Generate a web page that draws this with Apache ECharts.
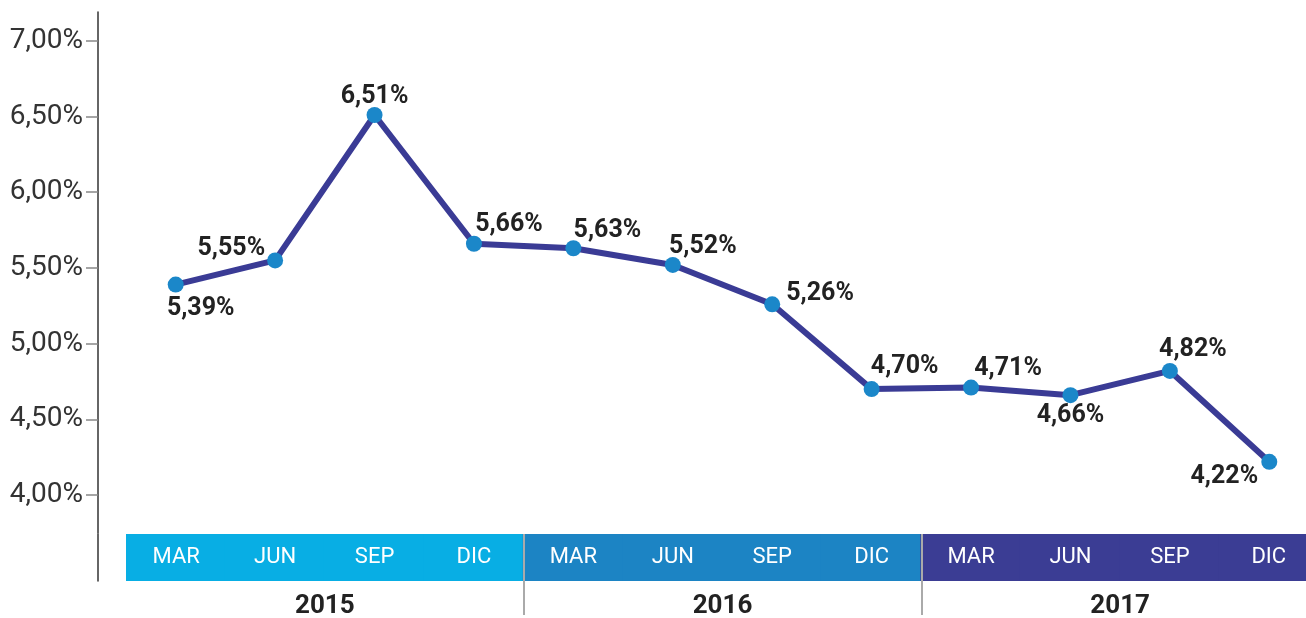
<!DOCTYPE html>
<html>
<head>
<meta charset="utf-8">
<title>Tasa</title>
<script src="https://cdn.jsdelivr.net/npm/echarts@6/dist/echarts.min.js"></script>
<style>
  html, body { margin: 0; padding: 0; background: #fff; }
  #chart { width: 1306px; height: 618px; }
</style>
</head>
<body>
<div id="chart"></div>
<script>
// datos
const months = ["MAR", "JUN", "SEP", "DIC", "MAR", "JUN", "SEP", "DIC", "MAR", "JUN", "SEP", "DIC"];
const years = ["2015", "2016", "2017"];
const rates = [5.39, 5.55, 6.51, 5.66, 5.63, 5.52, 5.26, 4.70, 4.71, 4.66, 4.82, 4.22];
const yTicks = [4.0, 4.5, 5.0, 5.5, 6.0, 6.5, 7.0];

const yearColors = ["#08aee4", "#1c84c4", "#3b3d94"];
// where each point label sits (position, [dx, dy])
const labelPlace = [
  ["bottom", [25, 0]], ["left", [2, -12]], ["top", [0, 6]], ["top", [35, 6]],
  ["top", [34, 7]], ["top", [30, 6]], ["right", [2, -11]], ["top", [33, 2]],
  ["top", [37, 6]], ["bottom", [0, -4]], ["top", [23, 3]], ["bottom", [-45, -10]]
];

const fmt = v => v.toFixed(2).replace(".", ",") + "%";
const font = "Roboto, 'Noto Sans', sans-serif";
const sepStyle = { color: "#aaaaaa", width: 2 };

const lineData = rates.map((v, i) => ({
  value: v,
  label: { position: labelPlace[i][0], offset: labelPlace[i][1] },
}));
const bandData = months.map((m, i) => ({
  value: 1,
  itemStyle: { color: yearColors[Math.floor(i / 4)] },
}));

const myChart = echarts.init(document.getElementById("chart"));
const option = {
  backgroundColor: "#ffffff",
  animation: false,
  textStyle: { fontFamily: font },
  // la última franja sale cortada por el borde derecho
  grid: [
    { left: 126, width: 1193, top: 12, height: 521, outerBoundsMode: "none" },
    { left: 126, width: 1193, top: 534, height: 47, outerBoundsMode: "none" },
  ],
  xAxis: [
    {
      type: "category", gridIndex: 0, data: months, boundaryGap: true,
      axisLine: { show: false }, axisTick: { show: false },
      axisLabel: { show: false }, splitLine: { show: false },
    },
    {
      type: "category", gridIndex: 1, data: months, boundaryGap: true,
      axisLine: { show: false }, axisTick: { show: false },
      axisLabel: { show: false }, splitLine: { show: false },
      splitArea: { show: false },
    },
    {
      type: "category", gridIndex: 1, data: years, boundaryGap: true,
      position: "bottom", z: 5,
      axisLine: { show: false },
      axisTick: {
        show: true, length: 34, interval: i => i > 0 && i < 3,
        lineStyle: sepStyle,
      },
      splitLine: {
        show: true, interval: i => i > 0 && i < 3, lineStyle: sepStyle,
      },
      axisLabel: {
        margin: 12, fontSize: 26, fontWeight: "bold", color: "#222",
        fontFamily: font,
      },
    },
  ],
  yAxis: [
    {
      type: "value", gridIndex: 0, min: 3.75, max: 7.19, offset: 28,
      axisLine: { show: true, lineStyle: { color: "#333", width: 1.5 } },
      axisTick: {
        show: true, length: 12, customValues: yTicks,
        lineStyle: { color: "#888", width: 1.5 },
      },
      axisLabel: {
        customValues: yTicks, margin: 15, fontSize: 28, color: "#333",
        fontFamily: font, formatter: v => fmt(v),
      },
      splitLine: { show: false },
    },
    {
      type: "value", gridIndex: 1, min: 0, max: 1, offset: 28,
      axisLine: { show: true, lineStyle: { color: "#333", width: 1.5 } },
      axisTick: { show: false }, axisLabel: { show: false },
      splitLine: { show: false },
    },
    {
      // mitad interior de las marcas
      type: "value", gridIndex: 0, min: 3.75, max: 7.19, offset: 28,
      axisLine: { show: false },
      axisTick: {
        show: true, inside: true, length: 12, customValues: yTicks,
        lineStyle: { color: "#888", width: 1.5 },
      },
      axisLabel: { show: false }, splitLine: { show: false },
    },
  ],
  series: [
    {
      name: "Tasa", type: "line", xAxisIndex: 0, yAxisIndex: 0,
      data: lineData, z: 3,
      lineStyle: { color: "#3a3b95", width: 6 },
      symbol: "circle", symbolSize: 16,
      itemStyle: { color: "#1b87c9" },
      label: {
        show: true, fontSize: 25, fontWeight: "bold", color: "#222",
        fontFamily: font, distance: 4,
        formatter: p => fmt(p.value),
      },
    },
    {
      name: "Meses", type: "bar", xAxisIndex: 1, yAxisIndex: 1,
      data: bandData, barWidth: "102%", barGap: "-100%", z: 2,
      emphasis: { disabled: true },
      label: {
        show: true, position: "inside", color: "#fff", fontSize: 22,
        fontFamily: font, formatter: p => months[p.dataIndex],
      },
    },
  ],
};
myChart.setOption(option);
</script>
</body>
</html>
